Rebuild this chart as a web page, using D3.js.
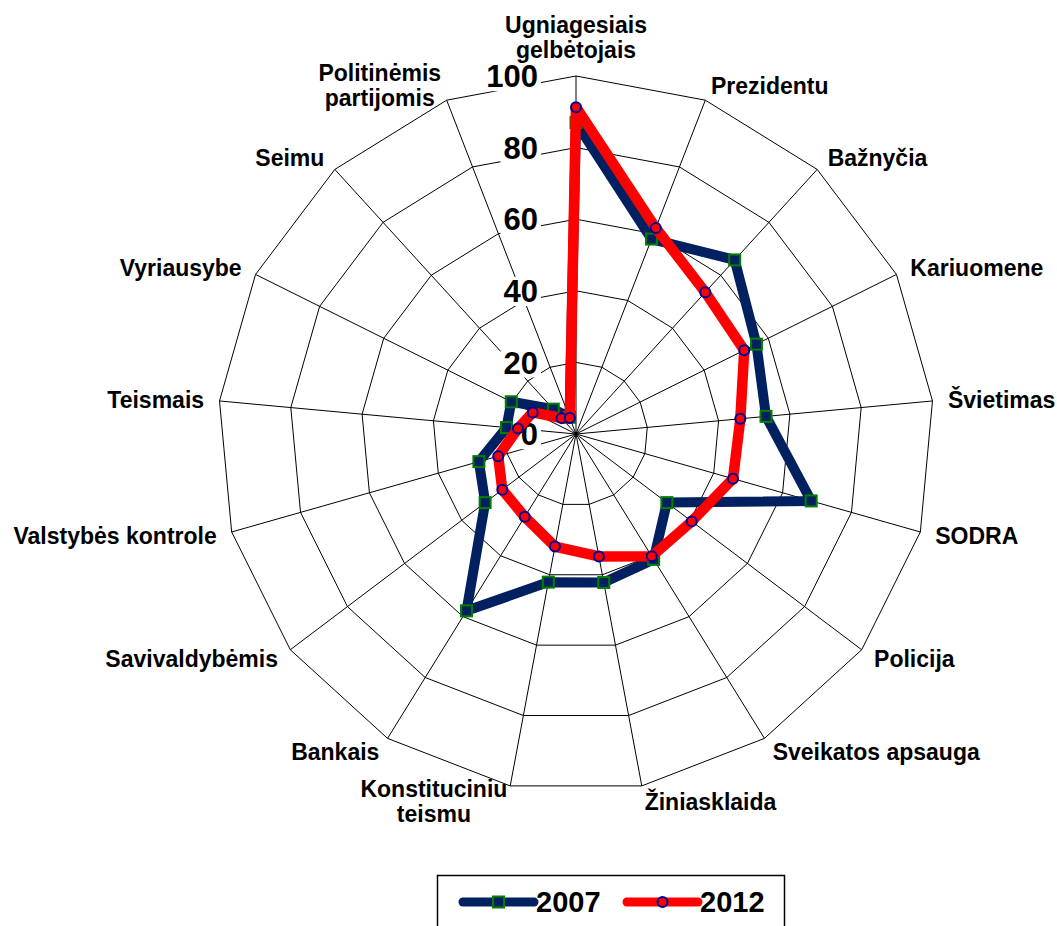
<!DOCTYPE html>
<html>
<head>
<meta charset="utf-8">
<script src="https://cdn.jsdelivr.net/npm/d3@7"></script>
<style>
  body { margin: 0; background: #fff; }
  svg { display: block; font-family: "Liberation Sans", Arial, sans-serif; font-weight: bold; }
</style>
</head>
<body>
<div id="chart"></div>
<script>
// categories, clockwise from the top
const categories = [
  "Ugniagesiais\ngelbėtojais", "Prezidentu", "Bažnyčia", "Kariuomene", "Švietimas",
  "SODRA", "Policija", "Sveikatos apsauga", "Žiniasklaida", "Konstituciniu\nteismu",
  "Bankais", "Savivaldybėmis", "Valstybės kontrole", "Teismais", "Vyriausybe",
  "Seimu", "Politinėmis\npartijomis"
];
const values2007 = [87, 58.4, 65.8, 56.3, 53.3, 68.3, 31.8, 41.2, 42.2, 42.1, 58.1, 31.8, 28.2, 19.5, 20.2, 9.4, 5];
const values2012 = [91.3, 61.7, 53.6, 52.5, 46.1, 45.6, 40.5, 40.2, 34.8, 32, 27.2, 25.8, 22.6, 16.3, 13.5, 6, 4.8];
const ticks = [0, 20, 40, 60, 80, 100];
const seriesNames = ["2007", "2012"];

const width = 1057, height = 926;
const cx = 576, cy = 434, R = 358;
const navy = "#002060", red = "#ff0000";

const svg = d3.select("#chart").append("svg")
  .attr("width", width)
  .attr("height", height);

svg.append("rect").attr("width", width).attr("height", height).attr("fill", "#fff");

const g = svg.append("g").attr("transform", `translate(${cx},${cy})`);

const r = d3.scaleLinear().domain([0, 100]).range([0, R]);
const angle = d3.scaleLinear().domain([0, categories.length]).range([0, 2 * Math.PI]);

const pt = (i, v) => [Math.sin(angle(i)) * r(v), -Math.cos(angle(i)) * r(v)];

// rings
const ring = d3.lineRadial()
  .angle((d, i) => angle(i))
  .radius(d => r(d))
  .curve(d3.curveLinearClosed);

g.selectAll(".ring").data(ticks.filter(t => t > 0)).enter()
  .append("path")
  .attr("d", t => ring(categories.map(() => t)))
  .attr("fill", "none")
  .attr("stroke", "#000")
  .attr("stroke-width", 1);

// spokes
g.selectAll(".spoke").data(categories).enter()
  .append("line")
  .attr("x1", 0).attr("y1", 0)
  .attr("x2", (d, i) => pt(i, 100)[0])
  .attr("y2", (d, i) => pt(i, 100)[1])
  .attr("stroke", "#000")
  .attr("stroke-width", 1);

// value labels on the top spoke, with white boxes over the grid
const tickG = g.selectAll(".tick").data(ticks).enter().append("g");
tickG.append("text")
  .attr("x", -38)
  .attr("y", t => -r(t))
  .attr("dy", "0.36em")
  .attr("text-anchor", "end")
  .style("font-size", "31px")
  .text(t => t);
tickG.each(function () {
  const txt = d3.select(this).select("text");
  const b = txt.node().getBBox();
  d3.select(this).insert("rect", "text")
    .attr("x", b.x - 3).attr("y", b.y + 3)
    .attr("width", b.width + 6).attr("height", b.height - 6)
    .attr("fill", "#fff");
});

// category labels
const lineH = 25;
g.selectAll(".cat").data(categories).enter()
  .append("text")
  .style("font-size", "23px")
  .each(function (d, i) {
    const t = d3.select(this);
    const lines = d.split("\n");
    lines.forEach((l, k) => {
      t.append("tspan").attr("x", 0).attr("y", k * lineH).attr("text-anchor", "middle").text(l);
    });
    const b = this.getBBox();
    const a = angle(i);
    const px = Math.sin(a) * (R + 15.5), py = -Math.cos(a) * (R + 15.5);
    let tx, ty;
    if (Math.abs(Math.sin(a)) < 0.1) {
      tx = px - (b.x + b.width / 2);
      ty = Math.cos(a) > 0 ? py - (b.y + b.height) + 2 : py - b.y;
    } else {
      tx = Math.sin(a) > 0 ? px - b.x : px - (b.x + b.width);
      ty = py - (b.y + b.height / 2);
    }
    t.attr("transform", `translate(${tx},${ty})`);
  });

// series
const radar = d3.lineRadial()
  .angle((d, i) => angle(i))
  .radius(d => r(d))
  .curve(d3.curveLinearClosed);

g.append("path")
  .attr("d", radar(values2007))
  .attr("fill", "none")
  .attr("stroke", navy)
  .attr("stroke-width", 10)
  .attr("stroke-linejoin", "round");

g.selectAll(".m2007").data(values2007).enter()
  .append("rect")
  .attr("x", (d, i) => pt(i, d)[0] - 5.5)
  .attr("y", (d, i) => pt(i, d)[1] - 5.5)
  .attr("width", 11).attr("height", 11)
  .attr("fill", navy)
  .attr("stroke", "#008000")
  .attr("stroke-width", 2);

g.append("path")
  .attr("d", radar(values2012))
  .attr("fill", "none")
  .attr("stroke", red)
  .attr("stroke-width", 10.5)
  .attr("stroke-linejoin", "round");

g.selectAll(".m2012").data(values2012).enter()
  .append("circle")
  .attr("cx", (d, i) => pt(i, d)[0])
  .attr("cy", (d, i) => pt(i, d)[1])
  .attr("r", 5)
  .attr("fill", red)
  .attr("stroke", "#000099")
  .attr("stroke-width", 2);

// legend
const leg = svg.append("g");
leg.append("rect")
  .attr("x", 437.5).attr("y", 875.5)
  .attr("width", 347).attr("height", 70)
  .attr("fill", "#fff")
  .attr("stroke", "#000")
  .attr("stroke-width", 1.5);

const legItems = [
  { name: seriesNames[0], color: navy, x: 463 },
  { name: seriesNames[1], color: red, x: 627 }
];
legItems.forEach((it, k) => {
  const ly = 902;
  leg.append("line")
    .attr("x1", it.x).attr("x2", it.x + 71)
    .attr("y1", ly).attr("y2", ly)
    .attr("stroke", it.color)
    .attr("stroke-width", 9)
    .attr("stroke-linecap", "round");
  if (k === 0) {
    leg.append("rect")
      .attr("x", it.x + 35.5 - 5.5).attr("y", ly - 5.5)
      .attr("width", 11).attr("height", 11)
      .attr("fill", navy).attr("stroke", "#008000").attr("stroke-width", 2);
  } else {
    leg.append("circle")
      .attr("cx", it.x + 35.5).attr("cy", ly).attr("r", 5)
      .attr("fill", red).attr("stroke", "#000099").attr("stroke-width", 2);
  }
  leg.append("text")
    .attr("x", it.x + 73).attr("y", 912)
    .style("font-size", "29px")
    .text(it.name);
});
</script>
</body>
</html>
